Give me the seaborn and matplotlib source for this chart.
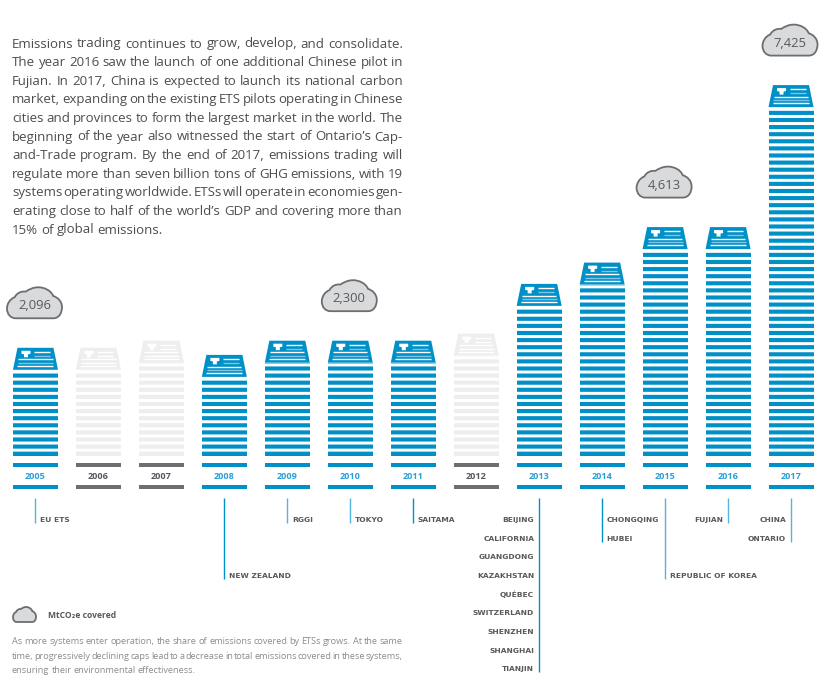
# -*- coding: utf-8 -*-
import numpy as np
import pandas as pd
import matplotlib
matplotlib.use('Agg')
import matplotlib.pyplot as plt
import seaborn as sns
from matplotlib.patches import PathPatch, Polygon
from matplotlib.path import Path

sns.set_theme(style='white')
plt.rcParams['font.family'] = ['Open Sans', 'DejaVu Sans']

# =============================================================
# DATA
# =============================================================

years = ['2005', '2006', '2007', '2008', '2009', '2010', '2011',
         '2012', '2013', '2014', '2015', '2016', '2017']
stripes = [12, 12, 13, 11, 13, 13, 13, 14, 21, 24, 29, 29, 49]
inactive_years = ['2006', '2007', '2012']

cloud_years = ['2005', '2010', '2015', '2017']
cloud_values = ['2,096', '2,300', '4,613', '7,425']

system_years = ['2005', '2008', '2009', '2010', '2011', '2013', '2014', '2015', '2016', '2017']
system_names = [
    ['EU ETS'],
    ['NEW ZEALAND'],
    ['RGGI'],
    ['TOKYO'],
    ['SAITAMA'],
    ['BEIJING', 'CALIFORNIA', 'GUANGDONG', 'KAZAKHSTAN', 'QUÉBEC',
     'SWITZERLAND', 'SHENZHEN', 'SHANGHAI', 'TIANJIN'],
    ['CHONGQING', 'HUBEI'],
    ['REPUBLIC OF KOREA'],
    ['FUJIAN'],
    ['CHINA', 'ONTARIO'],
]
system_first_row = [0, 3, 0, 0, 0, 0, 0, 3, 0, 0]
labels_left_of_line = ['2013', '2016', '2017']
strong_line_years = ['2008', '2011', '2013', '2014']

intro_lines = [
    'Emissions trading continues to grow, develop, and consolidate.',
    'The year 2016 saw the launch of one additional Chinese pilot in',
    'Fujian. In 2017, China is expected to launch its national carbon',
    'market, expanding on the existing ETS pilots operating in Chinese',
    'cities and provinces to form the largest market in the world. The',
    'beginning of the year also witnessed the start of Ontario’s Cap-',
    'and-Trade program. By the end of 2017, emissions trading will',
    'regulate more than seven billion tons of GHG emissions, with 19',
    'systems operating worldwide. ETSs will operate in economies gen-',
    'erating close to half of the world’s GDP and covering more than',
    '15% of global emissions.',
]
note_lines = [
    'As more systems enter operation, the share of emissions covered by ETSs grows. At the same',
    'time, progressively declining caps lead to a decrease in total emissions covered in these systems,',
    'ensuring their environmental effectiveness.',
]

BLUE = '#0090c8'
PALE_BLUE = '#7cc4e6'
LIGHT = '#eeeeee'
DARK = '#6d6e71'
TEXT = '#58595b'

W, H = 827, 688
PITCH = 7.1        # pixels per stripe
STRIPE = 0.58      # share of the pitch that is coloured
BAR_LEFT, BAR_RIGHT = 4.0, 822.5
BAR_BASE = 455.75

# =============================================================
# FIGURE
# =============================================================

fig = plt.figure(figsize=(W / 100, H / 100), dpi=100)

# stacks, y axis counted in stripes
ax_bars = fig.add_axes([BAR_LEFT / W, 1 - BAR_BASE / H,
                        (BAR_RIGHT - BAR_LEFT) / W, 52 * PITCH / H])
df = pd.DataFrame({'year': years, 'stripes': stripes})
palette = {y: (LIGHT if y in inactive_years else BLUE) for y in years}
sns.barplot(data=df, x='year', y='stripes', hue='year', palette=palette, order=years,
            width=0.715, saturation=1, legend=False, ax=ax_bars, linewidth=0)
for k in range(max(stripes)):
    ax_bars.axhspan(k + STRIPE, k + 1, color='white', lw=0, zorder=5, snap=False)
ax_bars.set_xlim(-0.5, len(years) - 0.5)
ax_bars.set_ylim(0, 52)
ax_bars.axis('off')
ax_bars.patch.set_alpha(0)

# everything else, in picture pixels
ax = fig.add_axes([0, 0, 1, 1])
ax.set_xlim(0, W)
ax.set_ylim(H, 0)
ax.axis('off')
ax.patch.set_alpha(0)

step = (BAR_RIGHT - BAR_LEFT) / len(years)
half_bar = 0.715 * step / 2


def bar_x(year):
    return BAR_LEFT + step * (years.index(year) + 0.5)


def top_center(n):
    return BAR_BASE - (n - 1 + STRIPE / 2) * PITCH


cloud_verts = [(0.16, 0), (0.84, 0),
               (0.95, 0), (1.0, 0.18), (1.0, 0.36),
               (1.0, 0.55), (0.92, 0.68), (0.84, 0.72),
               (0.80, 0.90), (0.68, 1.0), (0.57, 1.0),
               (0.47, 1.0), (0.40, 0.93), (0.34, 0.86),
               (0.26, 0.88), (0.18, 0.82), (0.14, 0.68),
               (0.05, 0.62), (0, 0.46), (0, 0.32),
               (0, 0.12), (0.07, 0), (0.16, 0)]
cloud_codes = [Path.MOVETO, Path.LINETO] + [Path.CURVE4] * 21


def draw_cloud(x0, y_bottom, w, h):
    pts = [(x0 + px * w, y_bottom - py * h) for px, py in cloud_verts]
    ax.add_patch(PathPatch(Path(pts, cloud_codes), fc='#d9dadb', ec=DARK, lw=1.3, zorder=4))


def justified(lines, x0, x1, y0, dy, size, color):
    # one text per word so each full line reaches the right margin, like the original
    renderer = fig.canvas.get_renderer()
    for i, line in enumerate(lines):
        words = line.split(' ')
        items = [ax.text(x0, y0 + i * dy, w, fontsize=size, color=color, va='baseline') for w in words]
        widths = [t.get_window_extent(renderer).width for t in items]
        space = size * 100 / 72 * 0.24
        if i < len(lines) - 1:
            space = (x1 - x0 - sum(widths)) / (len(words) - 1)
        x = x0
        for t, wd in zip(items, widths):
            t.set_x(x)
            x += wd + space


for year, n in zip(years, stripes):
    cx = bar_x(year)
    off = year in inactive_years
    col = LIGHT if off else BLUE
    base = DARK if off else BLUE

    # base stripes with the year between them
    for y_line in (465.0, 486.7):
        ax.fill_between([cx - half_bar, cx + half_bar], y_line - 2, y_line + 2, color=base, lw=0)
    ax.text(cx, 476.5, year, ha='center', va='center', fontsize=6.6, fontweight='bold',
            color=TEXT if off else '#2a9fd8')

    # document on top of the stack
    bottom = top_center(n) - 5.8
    top = bottom - 22
    ax.add_patch(Polygon([(cx - 18, top), (cx + 18, top), (cx + half_bar, bottom), (cx - half_bar, bottom)],
                         fc=col, ec='none', zorder=3))
    pale = 'white' if off else PALE_BLUE
    for frac, c in [(0.20, 'white'), (0.37, pale)]:
        ax.plot([cx - 1, cx + 14.5], [top + frac * 22] * 2, color=c, lw=1, zorder=4, solid_capstyle='butt')
    for frac, c in [(0.53, 'white'), (0.68, pale), (0.83, 'white')]:
        half = 15.5 + frac * 3
        ax.plot([cx - half, cx + half], [top + frac * 22] * 2, color=c, lw=1, zorder=4, solid_capstyle='butt')
    # small shirt symbol
    ax.add_patch(Polygon([(cx - 14, top + 3), (cx - 5, top + 3), (cx - 5, top + 6), (cx - 7.5, top + 6.5),
                          (cx - 7.5, top + 9.5), (cx - 11.5, top + 9.5), (cx - 11.5, top + 6.5), (cx - 14, top + 6)],
                         fc='white', ec='none', zorder=4))

for year, value in zip(cloud_years, cloud_values):
    n = stripes[years.index(year)]
    cx = bar_x(year) - 1
    y_bottom = top_center(n) - 5.8 - 22 - 29.5
    draw_cloud(cx - 27.5, y_bottom, 55, 31)
    ax.text(cx, y_bottom - 12.5, value, ha='center', va='center', fontsize=9.4, color=TEXT, zorder=5)

# leader lines and system names
ROW0, ROW = 520.0, 18.65
for year, names, first in zip(system_years, system_names, system_first_row):
    cx = bar_x(year)
    last_y = ROW0 + ROW * (first + len(names) - 1)
    ax.plot([cx, cx], [498, last_y + 3], color=BLUE if year in strong_line_years else '#55b3df',
            lw=1, solid_capstyle='butt')
    left = year in labels_left_of_line
    for r, name in enumerate(names):
        ax.text(cx - 5 if left else cx + 4.5, ROW0 + ROW * (first + r), name,
                ha='right' if left else 'left', va='center', fontsize=5.4, fontweight='bold',
                color=TEXT, family=['DejaVu Sans'])

# intro text, legend and note
justified(intro_lines, 12, 403, 47.5, 18.6, 9.5, '#4d4d4f')
draw_cloud(13, 622, 23, 15)
ax.text(48, 616, 'MtCO₂e covered', va='center', fontsize=6.1, fontweight='bold', color=TEXT)
justified(note_lines, 12, 403, 644.5, 14.2, 6.6, '#8a8c8e')

fig.savefig('out.png', dpi=100, facecolor='white')
plt.close(fig)
